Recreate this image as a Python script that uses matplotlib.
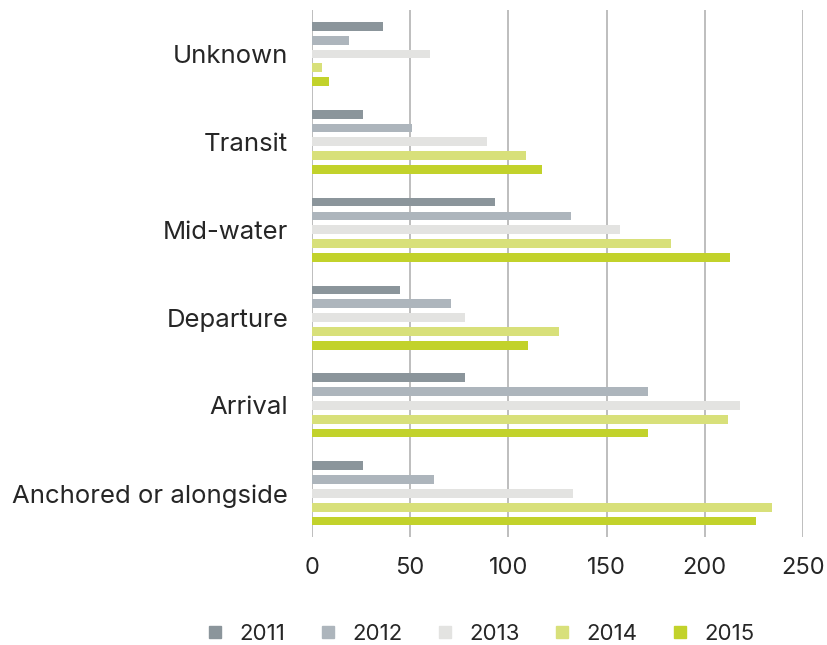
import matplotlib.pyplot as plt
from matplotlib.lines import Line2D
import numpy as np

categories = ["Unknown", "Transit", "Mid-water", "Departure", "Arrival", "Anchored or alongside"]
years = ["2011", "2012", "2013", "2014", "2015"]
values_2011 = [36, 26, 93, 45, 78, 26]
values_2012 = [19, 51, 132, 71, 171, 62]
values_2013 = [60, 89, 157, 78, 218, 133]
values_2014 = [5, 109, 183, 126, 212, 234]
values_2015 = [9, 117, 213, 110, 171, 226]
x_ticks = [0, 50, 100, 150, 200, 250]

colors = ["#8b959b", "#adb5bc", "#e3e3e1", "#d8e07a", "#c2d22b"]
series = [values_2011, values_2012, values_2013, values_2014, values_2015]

plt.rcParams['font.family'] = ['Inter', 'DejaVu Sans']

fig = plt.figure(figsize=(8.27, 6.45), dpi=100)
ax = fig.add_axes([0.377, 0.167, 0.594, 0.8175])

pos = np.arange(len(categories))
slot = 0.157
height = 0.1
for i, (vals, col) in enumerate(zip(series, colors)):
    ax.barh(pos + (i - 2) * slot, vals, height=height, color=col, zorder=3)

ax.set_ylim(len(categories) - 0.5, -0.5)
ax.set_xlim(0, 250)
ax.set_xticks(x_ticks)
ax.set_yticks(pos)
ax.set_yticklabels(categories)
ax.grid(axis='x', color='#b3b3b3', linewidth=1.2, zorder=0)
for s in ax.spines.values():
    s.set_visible(False)
ax.tick_params(length=0, labelcolor='#262626')
ax.tick_params(axis='x', pad=14, labelsize=17)
ax.tick_params(axis='y', pad=17, labelsize=18.5)

handles = [Line2D([], [], marker='s', linestyle='none', markersize=9,
                  markerfacecolor=c, markeredgecolor=c) for c in colors]
fig.legend(handles, years, loc='center', bbox_to_anchor=(0.582, 0.017), ncol=5,
           frameon=False, fontsize=16, handlelength=0.6, handletextpad=0.8,
           columnspacing=1.6, labelcolor='#262626')

fig.savefig("out.png", dpi=100)
